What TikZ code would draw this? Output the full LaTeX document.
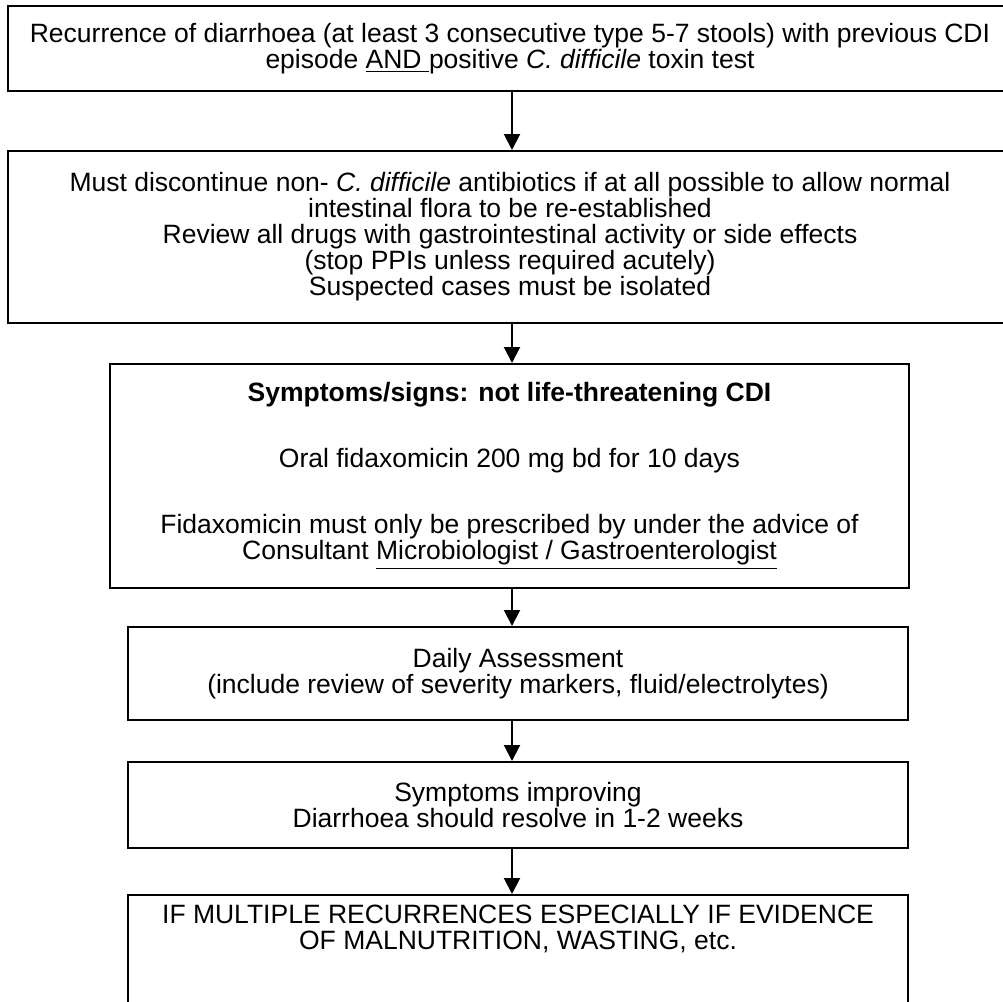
\documentclass[tikz,border=0pt]{standalone}
\usepackage{fontspec}
\setmainfont{Liberation Sans}
\usetikzlibrary{arrows.meta}

\begin{document}
\begin{tikzpicture}[x=0.5pt,y=-0.5pt,
  flowbox/.style={draw, line width=1pt, align=center, inner sep=0pt,
    font=\fontsize{13.25}{13}\selectfont},
  flowarrow/.style={line width=1pt, -{Triangle[length=8pt,width=8pt]}}]
\useasboundingbox (0,0) rectangle (1003,1002);
\coordinate (axis) at (512,0);
% boxes, top to bottom
\node[flowbox, minimum width=502pt, minimum height=42.5pt] (recur) at (510,48.5)
  {Recurrence of diarrhoea (at least 3 consecutive type 5-7 stools) with previous CDI\\
   episode \underline{AND\ }positive \textit{C. difficile} toxin test};
\node[flowbox, minimum width=502pt, minimum height=86pt] (stop) at (510,237)
  {Must discontinue non- \textit{C. difficile} antibiotics if at all possible to allow normal\\
   intestinal flora to be re-established\\
   Review all drugs with gastrointestinal activity or side effects\\
   (stop PPIs unless required acutely)\\
   Suspected cases must be isolated};
\node[flowbox, minimum width=399.5pt, minimum height=112pt] (treat) at (509.5,476)
  {\textbf{Symptoms/signs: not life-threatening CDI}\\[20pt]
   Oral fidaxomicin 200 mg bd for 10 days\\[20pt]
   Fidaxomicin must only be prescribed by under the advice of\\
   Consultant \underline{Microbiologist / Gastroenterologist}};
\node[flowbox, minimum width=390pt, minimum height=46.5pt] (assess) at (518,673.5)
  {Daily Assessment\\
   (include review of severity markers, fluid/electrolytes)};
\node[flowbox, minimum width=390pt, minimum height=43pt] (improve) at (518,805)
  {Symptoms improving\\
   Diarrhoea should resolve in 1-2 weeks};
\node[flowbox, minimum width=390pt, minimum height=82.5pt] (multi) at (518,977.5) {};
\node[flowbox, draw=none, anchor=north] (multitxt) at ([yshift=-5pt]multi.north)
  {IF MULTIPLE RECURRENCES ESPECIALLY IF EVIDENCE\\
   OF MALNUTRITION, WASTING, etc.};
% arrows
\draw[flowarrow] (recur.south -| axis) -- (stop.north -| axis);
\draw[flowarrow] (stop.south -| axis) -- (treat.north -| axis);
\draw[flowarrow] (treat.south -| axis) -- (assess.north -| axis);
\draw[flowarrow] (assess.south -| axis) -- (improve.north -| axis);
\draw[flowarrow] (improve.south -| axis) -- (multi.north -| axis);
\end{tikzpicture}
\end{document}
